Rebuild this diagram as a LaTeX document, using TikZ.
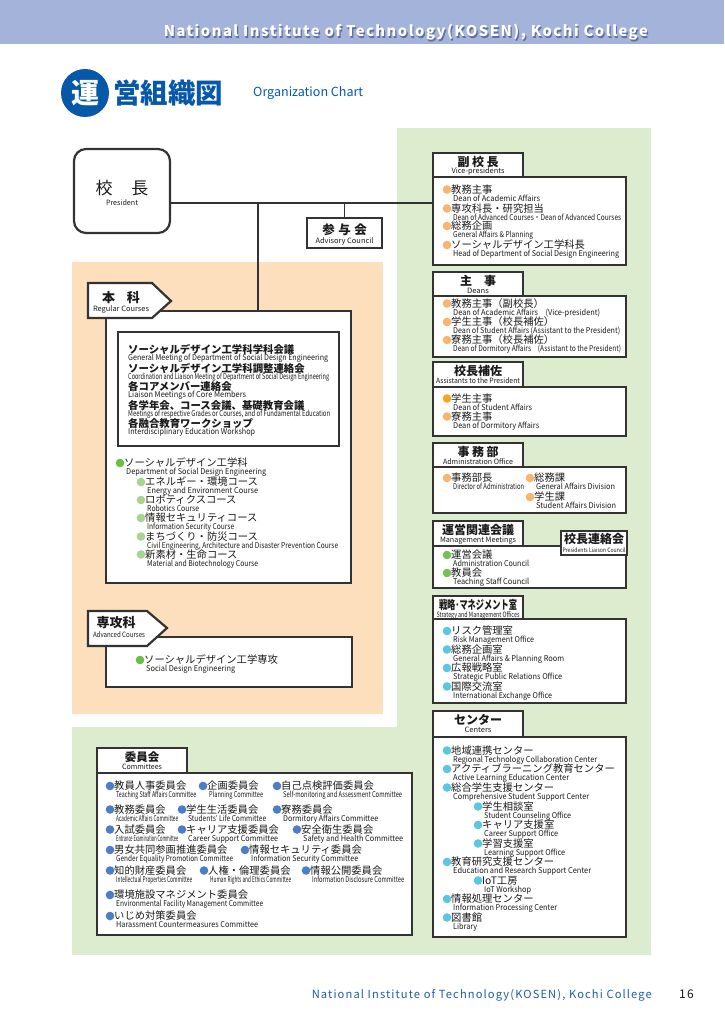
\documentclass[tikz,border=0pt]{standalone}
\usepackage{fontspec}
\usepackage{graphicx}
\setmainfont{Noto Sans CJK JP}
\newfontfamily\spfont[LetterSpace=10]{Noto Sans CJK JP}
\definecolor{hdr}{HTML}{A4B3D9}
\definecolor{hdrsh}{HTML}{5E6E9E}
\definecolor{gbg}{HTML}{DDEBCE}
\definecolor{obg}{HTML}{FDDFBD}
\definecolor{lnc}{HTML}{333333}
\definecolor{ink}{HTML}{1A1A1A}
\definecolor{tblue}{HTML}{0758A8}
\definecolor{ftblue}{HTML}{1F5DAA}
\definecolor{lorange}{HTML}{F8B570}
\definecolor{dorange}{HTML}{F4A623}
\definecolor{dgreen}{HTML}{6ABD45}
\definecolor{lgreen}{HTML}{A7D590}
\definecolor{mgreen}{HTML}{74C15A}
\definecolor{cyanb}{HTML}{5BC6E1}
\definecolor{blueb}{HTML}{4C7DC9}
\newlength\fitlen
\newcommand\fitto[2]{\settowidth\fitlen{#2}\pgfmathsetmacro\fitr{#1/\fitlen}\scalebox{\fitr}[1]{#2}}
\newcounter{itc}
\tikzset{
  jp/.style={font=\fontsize{10.3}{12}\selectfont, inner sep=0, text=ink},
  jpb/.style={font=\bfseries\fontsize{10.4}{12}\selectfont, inner sep=0, text=ink},
  en/.style={font=\fontsize{8}{9}\selectfont, inner sep=0, text=ink},
  ttl/.style={font=\bfseries\fontsize{12}{14}\selectfont, inner sep=0, text=ink},
  tsub/.style={font=\fontsize{7.3}{8}\selectfont, inner sep=0, text=ink},
  cbox/.style={draw=lnc, line width=1.1pt, fill=white, inner sep=0, outer sep=0},
  conn/.style={draw=lnc, line width=1.1pt},
  pent/.style={draw=lnc, line width=2.2pt, fill=white, line join=miter},
}
% box by corners
\newcommand\rbox[6]{\pgfmathsetmacro\rw{#4-#2}\pgfmathsetmacro\rh{#5-#3}%
  \node[#6, anchor=north west, minimum width=\rw pt, minimum height=\rh pt] (#1) at (#2,#3) {};}
% bulleted item
\newcommand\bul[6]{\stepcounter{itc}\edef\nn{\arabic{itc}}%
  \fill[#3] (#1,#2) circle (4.3pt);
  \node[jp, anchor=base west] (j\nn) at ({#1+4},{#2+3.8}) {#4};
  \node[en, anchor=base west] (e\nn) at ({#1+6},{#2+11.7}) {\fitto{#5}{#6}};}
% bold line without bullet
\newcommand\jline[5]{\stepcounter{itc}\edef\nn{\arabic{itc}}%
  \node[jpb, anchor=base west] (j\nn) at (#1,{#2+3.8}) {#3};
  \node[en, anchor=base west] (e\nn) at (#1,{#2+10.7}) {\fitto{#4}{#5}};}
% tab with title
\newcommand\tabb[8]{\rbox{#1}{#2}{#3}{#4}{#5}{cbox}%
  \node[ttl, anchor=base] (#1-t) at ({(#2+#4)/2},{#3+13.3}) {#6};
  \node[tsub, anchor=base] (#1-s) at ({(#2+#4)/2},{#3+21}) {\fitto{#7}{#8}};}
\begin{document}
\begin{tikzpicture}[x=1pt,y=-1pt]
\useasboundingbox (0,0) rectangle (724,1024);
% backgrounds
\fill[white] (0,0) rectangle (724,1024);
\fill[hdr] (0,0) rectangle (724,44);
\fill[gbg] (397,128) rectangle (651,955);
\fill[gbg] (72,727) rectangle (651,955);
\fill[obg] (72,262) rectangle (383,714);
% header
\node[anchor=base east, inner sep=0, text=hdrsh] (hdrS) at (649.2,38.2) {\resizebox{484pt}{!}{\spfont\bfseries\fontsize{15}{16}\selectfont National Institute of Technology(KOSEN), Kochi College}};
\node[anchor=base east, inner sep=0, text=white] (hdrT) at (648,37) {\resizebox{484pt}{!}{\spfont\bfseries\fontsize{15}{16}\selectfont National Institute of Technology(KOSEN), Kochi College}};
% title
\node[circle, fill=tblue, minimum size=48pt, inner sep=0, text=white, font=\bfseries\fontsize{28}{30}\selectfont] (tc) at (85,93) {運};
\node[anchor=west, text=tblue, font=\bfseries\fontsize{27.5}{30}\selectfont, inner sep=0] (tt) at (113,93) {営組織図};
\node[anchor=base west, text=tblue, font=\fontsize{12.5}{14}\selectfont, inner sep=0] (ten) at (253,97) {\fitto{110}{Organization Chart}};
% president
\node[draw=lnc, line width=2.2pt, rounded corners=12pt, fill=white, minimum width=96pt, minimum height=84pt, anchor=north west, inner sep=0, outer sep=0] (pres) at (74,149) {};
\node[font=\fontsize{17}{20}\selectfont, anchor=base, inner sep=0, text=ink] (pres-t) at (122,194.3) {校\hspace{1.1em}長};
\node[tsub, anchor=base] (pres-s) at (122,205.5) {\fitto{32}{President}};
% advisory council
\rbox{sanyo}{307}{218}{382}{248}{cbox}
\node[font=\bfseries\fontsize{12.5}{14}\selectfont, anchor=base, inner sep=0, text=ink] (sanyo-t) at (344.5,234.6) {参\hspace{3.5pt}与\hspace{3.5pt}会};
\node[tsub, anchor=base] (sanyo-s) at (344.5,243.5) {\fitto{58}{Advisory Council}};
% regular courses
\rbox{honka}{106}{311}{351}{583}{cbox}
\draw[pent] (88,283) -- (152,283) -- (171,301) -- (152,318) -- (88,318) -- cycle;
\node[font=\bfseries\fontsize{13}{15}\selectfont, anchor=base, inner sep=0, text=ink] (honka-t) at (121,302.8) {本\hspace{0.9em}科};
\node[tsub, anchor=base] (honka-s) at (121,311.5) {\fitto{56}{Regular Courses}};
\rbox{inner}{118}{332}{339}{446}{cbox, line width=2pt}
\jline{128}{350}{ソーシャルデザイン工学科学科会議}{200}{General Meeting of Department of Social Design Engineering}
\jline{128}{368.5}{ソーシャルデザイン工学科調整連絡会}{201}{Coordination and Liaison Meeting of Department of Social Design Engineering}
\jline{128}{387}{各コアメンバー連絡会}{118}{Liaison Meetings of Core Members}
\jline{128}{405.5}{各学年会、コース会議、基礎教育会議}{202}{Meetings of respective Grades or Courses, and of Fundamental Education}
\jline{128}{424}{各融合教育ワークショップ}{127}{Interdisciplinary Education Workshop}
\bul{120}{463}{dgreen}{ソーシャルデザイン工学科}{140}{Department of Social Design Engineering}
\bul{141}{482}{lgreen}{エネルギー・環境コース}{111}{Energy and Environment Course}
\bul{141}{500}{lgreen}{ロボティクスコース}{52}{Robotics Course}
\bul{141}{518}{lgreen}{情報セキュリティコース}{87}{Information Security Course}
\bul{141}{536.5}{lgreen}{まちづくり・防災コース}{191}{Civil Engineering, Architecture and Disaster Prevention Course}
\bul{141}{554.5}{lgreen}{新素材・生命コース}{111}{Material and Biotechnology Course}
% advanced courses
\rbox{senko}{106}{637}{352}{687}{cbox}
\draw[pent] (88,611) -- (147,611) -- (167,628) -- (147,646) -- (88,646) -- cycle;
\node[font=\bfseries\fontsize{13}{15}\selectfont, anchor=base, inner sep=0, text=ink] (senko-t) at (116,627.8) {専攻科};
\node[tsub, anchor=base] (senko-s) at (119,637.5) {\fitto{52}{Advanced Courses}};
\bul{140}{660}{dgreen}{ソーシャルデザイン工学専攻}{89}{Social Design Engineering}
% vice-presidents
\rbox{vp}{433}{177}{626}{265}{cbox}
\tabb{vpt}{433}{153}{523}{177}{副\hspace{2.5pt}校\hspace{2.5pt}長}{53}{Vice-presidents}
\bul{447}{189.5}{lorange}{教務主事}{87}{Dean of Academic Affairs}
\bul{447}{208.5}{lorange}{専攻科長・研究担当}{168}{Dean of Advanced Courses・Dean of Advanced Courses}
\bul{447}{226}{lorange}{総務企画}{80}{General Affairs \& Planning}
\bul{447}{245}{lorange}{ソーシャルデザイン工学科長}{166}{Head of Department of Social Design Engineering}
% deans
\rbox{deans}{433}{296}{626}{357}{cbox}
\tabb{deanst}{433}{272}{523}{296}{主\hspace{12pt}事}{22}{Deans}
\bul{447}{303.5}{lorange}{教務主事（副校長）}{147}{Dean of Academic Affairs\quad(Vice-president)}
\bul{447}{322}{lorange}{学生主事（校長補佐）}{167}{Dean of Student Affairs (Assistant to the President)}
\bul{447}{340}{lorange}{寮務主事（校長補佐）}{168}{Dean of Dormitory Affairs\quad(Assistant to the President)}
% assistants
\rbox{asst}{433}{387}{626}{436}{cbox}
\tabb{asstt}{433}{362}{523}{387}{校長補佐}{84}{Assistants to the President}
\bul{447}{398.5}{dorange}{学生主事}{79}{Dean of Student Affairs}
\bul{447}{416.5}{lorange}{寮務主事}{86}{Dean of Dormitory Affairs}
% administration
\rbox{admin}{433}{467}{626}{513}{cbox}
\tabb{admint}{433}{443}{523}{467}{事\hspace{2.5pt}務\hspace{2.5pt}部}{70}{Administration Office}
\bul{447}{478}{lorange}{事務部長}{71}{Director of Administration}
\bul{530}{478}{lorange}{総務課}{79}{General Affairs Division}
\bul{530}{497}{lorange}{学生課}{80}{Student Affairs Division}
% management meetings
\rbox{mgmt}{433}{546}{626}{588}{cbox}
\tabb{mgmtt}{433}{521}{523}{546}{運営関連会議}{76}{Management Meetings}
\rbox{liaison}{561}{531}{627}{555}{cbox}
\node[ttl, anchor=base] (liaison-t) at (594,543.4) {校長連絡会};
\node[font=\fontsize{6}{7}\selectfont, inner sep=0, text=ink, anchor=base] (liaison-s) at (594,552.3) {\fitto{63}{Presidents Liaison Council}};
\bul{447}{555}{mgreen}{運営会議}{76}{Administration Council}
\bul{447}{573}{mgreen}{教員会}{76}{Teaching Staff Council}
% strategy
\rbox{strat}{433}{619}{626}{703}{cbox}
\tabb{stratt}{433}{596}{523}{619}{\fitto{78}{戦略･マネジメント室}}{83}{Strategy and Management Offices}
\bul{447}{631}{cyanb}{リスク管理室}{81}{Risk Management Office}
\bul{447}{649.5}{cyanb}{総務企画室}{111}{General Affairs \& Planning Room}
\bul{447}{668}{cyanb}{広報戦略室}{109}{Strategic Public Relations Office}
\bul{447}{686.5}{cyanb}{国際交流室}{99}{International Exchange Office}
% centers
\rbox{centers}{433}{737}{626}{937}{cbox}
\tabb{centerst}{433}{711}{523}{737}{センター}{27}{Centers}
\bul{447}{750.5}{cyanb}{地域連携センター}{144}{Regional Technology Collaboration Center}
\bul{447}{769}{cyanb}{アクティブラーニング教育センター}{116}{Active Learning Education Center}
\bul{447}{787.5}{cyanb}{総合学生支援センター}{136}{Comprehensive Student Support Center}
\bul{478}{806.5}{cyanb}{学生相談室}{87}{Student Counseling Office}
\bul{478}{825}{cyanb}{キャリア支援室}{74}{Career Support Office}
\bul{478}{843.5}{cyanb}{学習支援室}{81}{Learning Support Office}
\bul{447}{862}{cyanb}{教育研究支援センター}{138}{Education and Research Support Center}
\bul{478}{880.5}{cyanb}{IoT工房}{47}{IoT Workshop}
\bul{447}{899}{cyanb}{情報処理センター}{104}{Information Processing Center}
\bul{447}{917.5}{cyanb}{図書館}{24}{Library}
% committees
\rbox{comm}{97}{773}{412}{935}{cbox}
\rbox{commt}{97}{748}{187}{773}{cbox}
\node[font=\bfseries\fontsize{11.5}{13}\selectfont, anchor=base, inner sep=0, text=ink] (commt-t) at (142,761.2) {委員会};
\node[tsub, anchor=base] (commt-s) at (142,769.5) {\fitto{40}{Committees}};
\bul{110}{786}{blueb}{教員人事委員会}{80}{Teaching Staff Affairs Committee}
\bul{203}{786}{blueb}{企画委員会}{54}{Planning Committee}
\bul{277}{786}{blueb}{自己点検評価委員会}{119}{Self-monitoring and Assessment Committee}
\bul{110}{809.5}{blueb}{教務委員会}{62}{Academic Affairs Committee}
\bul{182}{809.5}{blueb}{学生生活委員会}{78}{Students' Life Committee}
\bul{277}{809.5}{blueb}{寮務委員会}{95}{Dormitory Affairs Committee}
\bul{110}{829.5}{blueb}{入試委員会}{62}{Entrance Examination Committee}
\bul{182}{829.5}{blueb}{キャリア支援委員会}{90}{Career Support Committee}
\bul{297}{829.5}{blueb}{安全衛生委員会}{100}{Safety and Health Committee}
\bul{110}{850}{blueb}{男女共同参画推進委員会}{117}{Gender Equality Promotion Committee}
\bul{245}{850}{blueb}{情報セキュリティ委員会}{107}{Information Security Committee}
\bul{110}{870.5}{blueb}{知的財産委員会}{76}{Intellectual Properties Committee}
\bul{204}{870.5}{blueb}{人権・倫理委員会}{81}{Human Rights and Ethics Committee}
\bul{306}{870.5}{blueb}{情報公開委員会}{92}{Information Disclosure Committee}
\bul{110}{895}{blueb}{環境施設マネジメント委員会}{147}{Environmental Facility Management Committee}
\bul{110}{916}{blueb}{いじめ対策委員会}{142}{Harassment Countermeasures Committee}
% connectors
\coordinate (hy) at (0,203);
\coordinate (jn) at (258,203);
\draw[conn] (pres.east |- hy) -- (vp.west |- hy);
\draw[conn] (jn) -- (jn |- honka.north);
\draw[conn] (sanyo.north |- hy) -- (sanyo.north);
% footer
\node[anchor=base east, inner sep=0, text=ftblue] (ftr) at (652,998) {\resizebox{340pt}{!}{\spfont\fontsize{11}{12}\selectfont National Institute of Technology(KOSEN), Kochi College}};
\node[anchor=base west, inner sep=0, text=ink] (pg) at (679,998) {\spfont\fontsize{12}{13}\selectfont 16};
\end{tikzpicture}
\end{document}
